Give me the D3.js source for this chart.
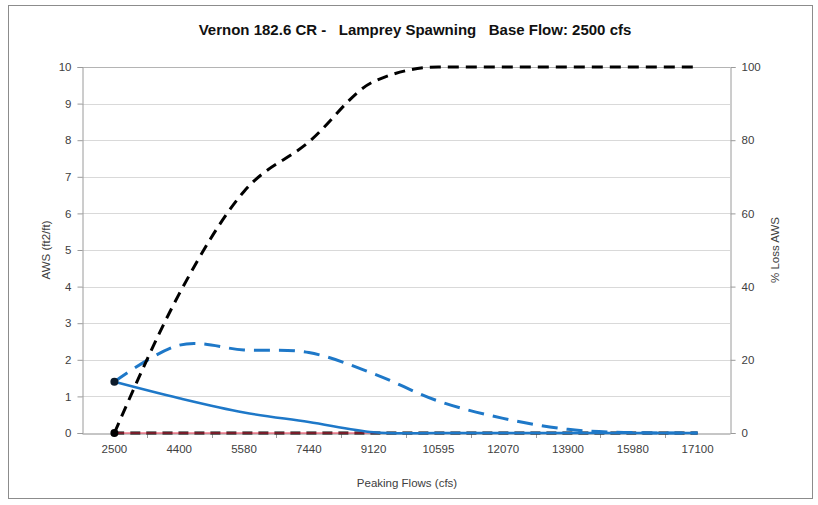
<!DOCTYPE html>
<html>
<head>
<meta charset="utf-8">
<script src="https://cdn.jsdelivr.net/npm/d3@7"></script>
<style>
  html, body { margin: 0; padding: 0; background: #fff; }
  svg { display: block; font-family: "Liberation Sans", Arial, sans-serif; }
</style>
</head>
<body>
<svg id="chart" width="818" height="505"></svg>
<script>
// ---- data ----
const categories = ["2500", "4400", "5580", "7440", "9120", "10595", "12070", "13900", "15980", "17100"];
const awsPeaking = [1.4, 0.95, 0.56, 0.3, 0.02, 0, 0, 0, 0, 0];          // solid blue, left axis
const awsBaseline = [1.4, 2.4, 2.27, 2.2, 1.62, 0.87, 0.4, 0.1, 0.01, 0]; // dashed blue, left axis
const pctLoss = [0, 38, 66, 79.5, 96, 100, 100, 100, 100, 100];          // dashed black, right axis
const zeroLineBlack = [0, 0, 0, 0, 0, 0, 0, 0, 0, 0];
const zeroLineRed = [0, 0, 0, 0, 0, 0, 0, 0, 0, 0];
const leftTicks = [0, 1, 2, 3, 4, 5, 6, 7, 8, 9, 10];
const rightTicks = [0, 20, 40, 60, 80, 100];

const titleText = "Vernon 182.6 CR -   Lamprey Spawning   Base Flow: 2500 cfs";
const yLeftLabel = "AWS (ft2/ft)";
const yRightLabel = "% Loss AWS";
const xLabel = "Peaking Flows (cfs)";

// ---- layout ----
const svg = d3.select("#chart");
const plot = { left: 82, right: 730, top: 67, bottom: 433 };

svg.append("rect")
  .attr("x", 8.5).attr("y", 5.5).attr("width", 804).attr("height", 493)
  .attr("fill", "#fff").attr("stroke", "#8c8c8c").attr("stroke-width", 1);

const x = d3.scaleBand().domain(categories).range([plot.left, plot.right]).padding(0);
const cx = c => x(c) + x.bandwidth() / 2;
const yL = d3.scaleLinear().domain([0, 10]).range([plot.bottom, plot.top]);
const yR = d3.scaleLinear().domain([0, 100]).range([plot.bottom, plot.top]);

// gridlines
svg.append("g").selectAll("line").data(leftTicks.filter(d => d > 0)).join("line")
  .attr("x1", plot.left).attr("x2", plot.right)
  .attr("y1", d => Math.round(yL(d)) + 0.5).attr("y2", d => Math.round(yL(d)) + 0.5)
  .attr("stroke", d => d === 10 ? "#b4b4b4" : "#d9d9d9").attr("stroke-width", 1);

const tickColor = "#9a9a9a";
const labelColor = "#404040";

// left axis
const gL = svg.append("g").attr("transform", `translate(${plot.left + 0.5},0)`)
  .call(d3.axisLeft(yL).tickValues(leftTicks).tickSize(5).tickPadding(6).tickFormat(d3.format("d")));
// right axis
const gR = svg.append("g").attr("transform", `translate(${plot.right + 0.5},0)`)
  .call(d3.axisRight(yR).tickValues(rightTicks).tickSize(5).tickPadding(6).tickFormat(d3.format("d")));
// bottom axis
const gB = svg.append("g").attr("transform", `translate(0,${plot.bottom + 0.5})`)
  .call(d3.axisBottom(x).tickSize(0).tickPadding(11));
// category boundary ticks
svg.append("g").selectAll("line").data(categories.slice(1)).join("line")
  .attr("x1", d => Math.round(x(d)) + 0.5).attr("x2", d => Math.round(x(d)) + 0.5)
  .attr("y1", plot.bottom).attr("y2", plot.bottom + 5)
  .attr("stroke", tickColor);

[gL, gR, gB].forEach(g => {
  g.select(".domain").attr("stroke", tickColor);
  g.selectAll(".tick line").attr("stroke", tickColor);
  g.selectAll(".tick text").attr("fill", labelColor).attr("font-size", 11.5)
    .attr("font-family", "'Liberation Sans', Arial, sans-serif");
});
gB.select(".domain").attr("stroke", "#8c8c8c");

// ---- series ----
const curve = d3.curveCatmullRom.alpha(0);
const lineL = d3.line().x((d, i) => cx(categories[i])).y(d => yL(d)).curve(curve);
const lineR = d3.line().x((d, i) => cx(categories[i])).y(d => yR(d)).curve(d3.curveMonotoneX);

svg.append("path").datum(zeroLineBlack).attr("d", lineL)
  .attr("fill", "none").attr("stroke", "#000").attr("stroke-width", 3)
  .attr("stroke-dasharray", "10,6");
svg.append("path").datum(zeroLineRed).attr("d", lineL)
  .attr("fill", "none").attr("stroke", "#ee3b55").attr("stroke-width", 1.2);

svg.append("path").datum(awsBaseline).attr("d", lineL)
  .attr("fill", "none").attr("stroke", "#1e78c8").attr("stroke-width", 3)
  .attr("stroke-dasharray", "16,9");

svg.append("path").datum(awsPeaking).attr("d", lineL)
  .attr("fill", "none").attr("stroke", "#1e78c8").attr("stroke-width", 2.5);

svg.append("path").datum(pctLoss).attr("d", lineR)
  .attr("fill", "none").attr("stroke", "#000").attr("stroke-width", 3)
  .attr("stroke-dasharray", "11,7");

// first-point markers
svg.append("circle").attr("cx", cx(categories[0])).attr("cy", yL(awsPeaking[0])).attr("r", 4)
  .attr("fill", "#0d1b2a");
svg.append("circle").attr("cx", cx(categories[0])).attr("cy", yR(pctLoss[0])).attr("r", 4)
  .attr("fill", "#000");

// ---- text ----
svg.append("text").attr("x", 415).attr("y", 35).attr("text-anchor", "middle")
  .attr("font-size", 15).attr("font-weight", "bold").attr("fill", "#111")
  .style("white-space", "pre").text(titleText);

svg.append("text").attr("transform", `translate(50,250) rotate(-90)`)
  .attr("text-anchor", "middle").attr("font-size", 11.5).attr("fill", labelColor).text(yLeftLabel);

svg.append("text").attr("transform", `translate(779,250) rotate(-90)`)
  .attr("text-anchor", "middle").attr("font-size", 11.5).attr("fill", labelColor).text(yRightLabel);

svg.append("text").attr("x", 407).attr("y", 487).attr("text-anchor", "middle")
  .attr("font-size", 11.5).attr("fill", labelColor).text(xLabel);
</script>
</body>
</html>
